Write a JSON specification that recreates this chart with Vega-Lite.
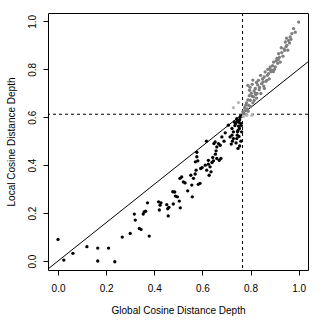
{
  "$schema": "https://vega.github.io/schema/vega-lite/v6.json",
  "width": 260,
  "height": 257,
  "autosize": "none",
  "padding": {"left": 48, "top": 13, "right": 24, "bottom": 62},
  "background": "white",
  "config": {
    "view": {"stroke": "black", "strokeWidth": 1},
    "font": "Liberation Sans",
    "axis": {"grid": false, "domain": false, "tickColor": "black", "tickSize": 5, "labelColor": "black", "titleColor": "black", "labelFont": "Liberation Sans", "titleFont": "Liberation Sans", "labelFontSize": 10, "titleFontSize": 10, "titleFontWeight": "normal"}
  },
  "datasets": {
    "pts": [
      {"x":0.0,"y":0.09,"g":"low"},{"x":0.024,"y":0.004,"g":"low"},{"x":0.062,"y":0.032,"g":"low"},{"x":0.12,"y":0.06,"g":"low"},{"x":0.165,"y":0.054,"g":"low"},{"x":0.165,"y":0.0,"g":"low"},{"x":0.21,"y":0.054,"g":"low"},{"x":0.236,"y":-0.003,"g":"low"},{"x":0.267,"y":0.1,"g":"low"},{"x":0.30,"y":0.115,"g":"low"},
      {"x":0.317,"y":0.196,"g":"low"},{"x":0.321,"y":0.171,"g":"low"},{"x":0.338,"y":0.136,"g":"low"},{"x":0.345,"y":0.132,"g":"low"},{"x":0.354,"y":0.196,"g":"low"},{"x":0.358,"y":0.205,"g":"low"},{"x":0.364,"y":0.208,"g":"low"},{"x":0.372,"y":0.243,"g":"low"},{"x":0.379,"y":0.104,"g":"low"},{"x":0.418,"y":0.247,"g":"low"},
      {"x":0.424,"y":0.233,"g":"low"},{"x":0.421,"y":0.213,"g":"low"},{"x":0.428,"y":0.243,"g":"low"},{"x":0.452,"y":0.235,"g":"low"},{"x":0.456,"y":0.218,"g":"low"},{"x":0.458,"y":0.188,"g":"low"},{"x":0.461,"y":0.224,"g":"low"},{"x":0.479,"y":0.238,"g":"low"},{"x":0.477,"y":0.289,"g":"low"},{"x":0.485,"y":0.288,"g":"low"},
      {"x":0.488,"y":0.271,"g":"low"},{"x":0.496,"y":0.268,"g":"low"},{"x":0.504,"y":0.25,"g":"low"},{"x":0.508,"y":0.222,"g":"low"},{"x":0.507,"y":0.345,"g":"low"},{"x":0.514,"y":0.351,"g":"low"},{"x":0.521,"y":0.33,"g":"low"},{"x":0.528,"y":0.326,"g":"low"},{"x":0.539,"y":0.293,"g":"low"},{"x":0.552,"y":0.358,"g":"low"},
      {"x":0.556,"y":0.317,"g":"low"},{"x":0.558,"y":0.268,"g":"low"},{"x":0.563,"y":0.345,"g":"low"},{"x":0.57,"y":0.363,"g":"low"},{"x":0.574,"y":0.379,"g":"low"},{"x":0.571,"y":0.414,"g":"low"},{"x":0.577,"y":0.435,"g":"low"},{"x":0.577,"y":0.454,"g":"low"},{"x":0.581,"y":0.418,"g":"low"},{"x":0.583,"y":0.32,"g":"low"},
      {"x":0.59,"y":0.324,"g":"low"},{"x":0.593,"y":0.386,"g":"low"},{"x":0.599,"y":0.39,"g":"low"},{"x":0.617,"y":0.5,"g":"low"},{"x":0.618,"y":0.379,"g":"low"},{"x":0.625,"y":0.42,"g":"low"},{"x":0.625,"y":0.404,"g":"low"},{"x":0.628,"y":0.358,"g":"low"},{"x":0.632,"y":0.393,"g":"low"},{"x":0.636,"y":0.372,"g":"low"},
      {"x":0.64,"y":0.411,"g":"low"},{"x":0.643,"y":0.432,"g":"low"},{"x":0.646,"y":0.418,"g":"low"},{"x":0.648,"y":0.49,"g":"low"},{"x":0.653,"y":0.497,"g":"low"},{"x":0.654,"y":0.446,"g":"low"},{"x":0.66,"y":0.476,"g":"low"},{"x":0.66,"y":0.428,"g":"low"},{"x":0.667,"y":0.49,"g":"low"},{"x":0.67,"y":0.42,"g":"low"},
      {"x":0.674,"y":0.483,"g":"low"},{"x":0.681,"y":0.518,"g":"low"},{"x":0.677,"y":0.428,"g":"low"},{"x":0.657,"y":0.46,"g":"low"},{"x":0.715,"y":0.518,"g":"low"},{"x":0.72,"y":0.488,"g":"low"},{"x":0.723,"y":0.525,"g":"low"},{"x":0.729,"y":0.511,"g":"low"},{"x":0.74,"y":0.493,"g":"low"},{"x":0.743,"y":0.511,"g":"low"},
      {"x":0.746,"y":0.539,"g":"low"},{"x":0.743,"y":0.594,"g":"low"},{"x":0.738,"y":0.574,"g":"low"},{"x":0.75,"y":0.563,"g":"low"},{"x":0.757,"y":0.601,"g":"low"},{"x":0.754,"y":0.553,"g":"low"},{"x":0.708,"y":0.567,"g":"low"},{"x":0.723,"y":0.553,"g":"low"},{"x":0.729,"y":0.539,"g":"low"},{"x":0.763,"y":0.539,"g":"low"},
      {"x":0.75,"y":0.58,"g":"low"},{"x":0.755,"y":0.59,"g":"low"},{"x":0.76,"y":0.605,"g":"low"},{"x":0.745,"y":0.585,"g":"low"},{"x":0.735,"y":0.565,"g":"low"},{"x":0.748,"y":0.545,"g":"low"},{"x":0.725,"y":0.5,"g":"low"},{"x":0.745,"y":0.525,"g":"low"},{"x":0.758,"y":0.575,"g":"low"},{"x":0.612,"y":0.4,"g":"low"},
      {"x":0.755,"y":0.48,"g":"low"},{"x":0.748,"y":0.47,"g":"low"},{"x":0.76,"y":0.5,"g":"low"},{"x":0.752,"y":0.52,"g":"low"},{"x":0.762,"y":0.565,"g":"low"},{"x":0.733,"y":0.58,"g":"low"},{"x":0.695,"y":0.535,"g":"low"},{"x":0.69,"y":0.5,"g":"low"},
      {"x":0.768,"y":0.622,"g":"high"},{"x":0.772,"y":0.615,"g":"high"},{"x":0.775,"y":0.64,"g":"high"},{"x":0.778,"y":0.629,"g":"high"},{"x":0.78,"y":0.65,"g":"high"},{"x":0.783,"y":0.66,"g":"high"},{"x":0.786,"y":0.635,"g":"high"},{"x":0.789,"y":0.672,"g":"high"},{"x":0.792,"y":0.65,"g":"high"},{"x":0.795,"y":0.69,"g":"high"},
      {"x":0.799,"y":0.671,"g":"high"},{"x":0.80,"y":0.645,"g":"high"},{"x":0.803,"y":0.70,"g":"high"},{"x":0.807,"y":0.6875,"g":"high"},{"x":0.789,"y":0.733,"g":"high"},{"x":0.796,"y":0.7125,"g":"high"},{"x":0.807,"y":0.7375,"g":"high"},{"x":0.8125,"y":0.685,"g":"high"},{"x":0.815,"y":0.71,"g":"high"},{"x":0.82,"y":0.72,"g":"high"},
      {"x":0.822,"y":0.695,"g":"high"},{"x":0.827,"y":0.699,"g":"high"},{"x":0.83,"y":0.735,"g":"high"},{"x":0.833,"y":0.754,"g":"high"},{"x":0.836,"y":0.715,"g":"high"},{"x":0.8375,"y":0.724,"g":"high"},{"x":0.843,"y":0.699,"g":"high"},{"x":0.846,"y":0.74,"g":"high"},{"x":0.85,"y":0.76,"g":"high"},{"x":0.852,"y":0.747,"g":"high"},
      {"x":0.855,"y":0.73,"g":"high"},{"x":0.857,"y":0.768,"g":"high"},{"x":0.861,"y":0.789,"g":"high"},{"x":0.864,"y":0.75,"g":"high"},{"x":0.868,"y":0.754,"g":"high"},{"x":0.87,"y":0.775,"g":"high"},{"x":0.875,"y":0.782,"g":"high"},{"x":0.878,"y":0.76,"g":"high"},{"x":0.88,"y":0.8,"g":"high"},{"x":0.882,"y":0.81,"g":"high"},
      {"x":0.885,"y":0.79,"g":"high"},{"x":0.889,"y":0.796,"g":"high"},{"x":0.892,"y":0.815,"g":"high"},{"x":0.896,"y":0.83,"g":"high"},{"x":0.9,"y":0.8,"g":"high"},{"x":0.903,"y":0.81,"g":"high"},{"x":0.906,"y":0.835,"g":"high"},{"x":0.91,"y":0.845,"g":"high"},{"x":0.913,"y":0.825,"g":"high"},{"x":0.917,"y":0.865,"g":"high"},
      {"x":0.92,"y":0.85,"g":"high"},{"x":0.924,"y":0.83,"g":"high"},{"x":0.93,"y":0.87,"g":"high"},{"x":0.935,"y":0.855,"g":"high"},{"x":0.94,"y":0.885,"g":"high"},{"x":0.942,"y":0.879,"g":"high"},{"x":0.945,"y":0.914,"g":"high"},{"x":0.948,"y":0.895,"g":"high"},{"x":0.951,"y":0.9,"g":"high"},{"x":0.955,"y":0.88,"g":"high"},
      {"x":0.958,"y":0.92,"g":"high"},{"x":0.962,"y":0.91,"g":"high"},{"x":0.965,"y":0.935,"g":"high"},{"x":0.968,"y":0.925,"g":"high"},{"x":0.972,"y":0.949,"g":"high"},{"x":0.979,"y":0.97,"g":"high"},{"x":0.986,"y":0.955,"g":"high"},{"x":1.0,"y":0.997,"g":"high"},{"x":0.782,"y":0.61,"g":"high"},{"x":0.79,"y":0.625,"g":"high"},
      {"x":0.81,"y":0.66,"g":"high"},{"x":0.815,"y":0.67,"g":"high"},{"x":0.82,"y":0.7,"g":"high"},{"x":0.825,"y":0.68,"g":"high"},
      {"x":0.798,"y":0.725,"g":"high"},{"x":0.81,"y":0.755,"g":"high"},{"x":0.825,"y":0.745,"g":"high"},{"x":0.842,"y":0.775,"g":"high"},{"x":0.858,"y":0.72,"g":"high"},{"x":0.872,"y":0.8,"g":"high"},{"x":0.895,"y":0.79,"g":"high"},{"x":0.915,"y":0.84,"g":"high"},{"x":0.928,"y":0.89,"g":"high"},{"x":0.95,"y":0.93,"g":"high"},
      {"x":0.729,"y":0.64,"g":"mid"},{"x":0.75,"y":0.661,"g":"mid"},{"x":0.785,"y":0.608,"g":"mid"},{"x":0.806,"y":0.608,"g":"mid"},{"x":0.77,"y":0.603,"g":"mid"}
    ]
  },
  "layer": [
    {
      "data": {"values": [{"x": -0.1, "y": -0.08}, {"x": 1.1, "y": 0.88}]},
      "mark": {"type": "line", "color": "black", "strokeWidth": 1, "clip": true},
      "encoding": {
        "x": {"field": "x", "type": "quantitative", "scale": {"domain": [-0.0417, 1.039], "nice": false, "zero": false},
              "axis": {"values": [0, 0.2, 0.4, 0.6, 0.8, 1.0], "format": ".1f", "labelPadding": 8, "title": "Global Cosine Distance Depth", "titlePadding": 12}},
        "y": {"field": "y", "type": "quantitative", "scale": {"domain": [-0.0375, 1.035], "nice": false, "zero": false},
              "axis": {"values": [0, 0.2, 0.4, 0.6, 0.8, 1.0], "format": ".1f", "labelAngle": 270, "labelAlign": "center", "labelBaseline": "alphabetic", "labelPadding": 8, "title": "Local Cosine Distance Depth", "titlePadding": 11}}
      }
    },
    {
      "data": {"values": [{"x": 0.767}]},
      "mark": {"type": "rule", "color": "black", "strokeWidth": 1, "strokeDash": [3, 3]},
      "encoding": {"x": {"field": "x", "type": "quantitative"}}
    },
    {
      "data": {"values": [{"y": 0.6125}]},
      "mark": {"type": "rule", "color": "black", "strokeWidth": 1, "strokeDash": [3, 3]},
      "encoding": {"y": {"field": "y", "type": "quantitative"}}
    },
    {
      "data": {"name": "pts"},
      "mark": {"type": "circle", "size": 11, "opacity": 1},
      "encoding": {
        "x": {"field": "x", "type": "quantitative"},
        "y": {"field": "y", "type": "quantitative"},
        "color": {"field": "g", "type": "nominal", "scale": {"domain": ["low", "high", "mid"], "range": ["#000000", "#7f7f7f", "#b8b8b8"]}, "legend": null}
      }
    }
  ]
}
